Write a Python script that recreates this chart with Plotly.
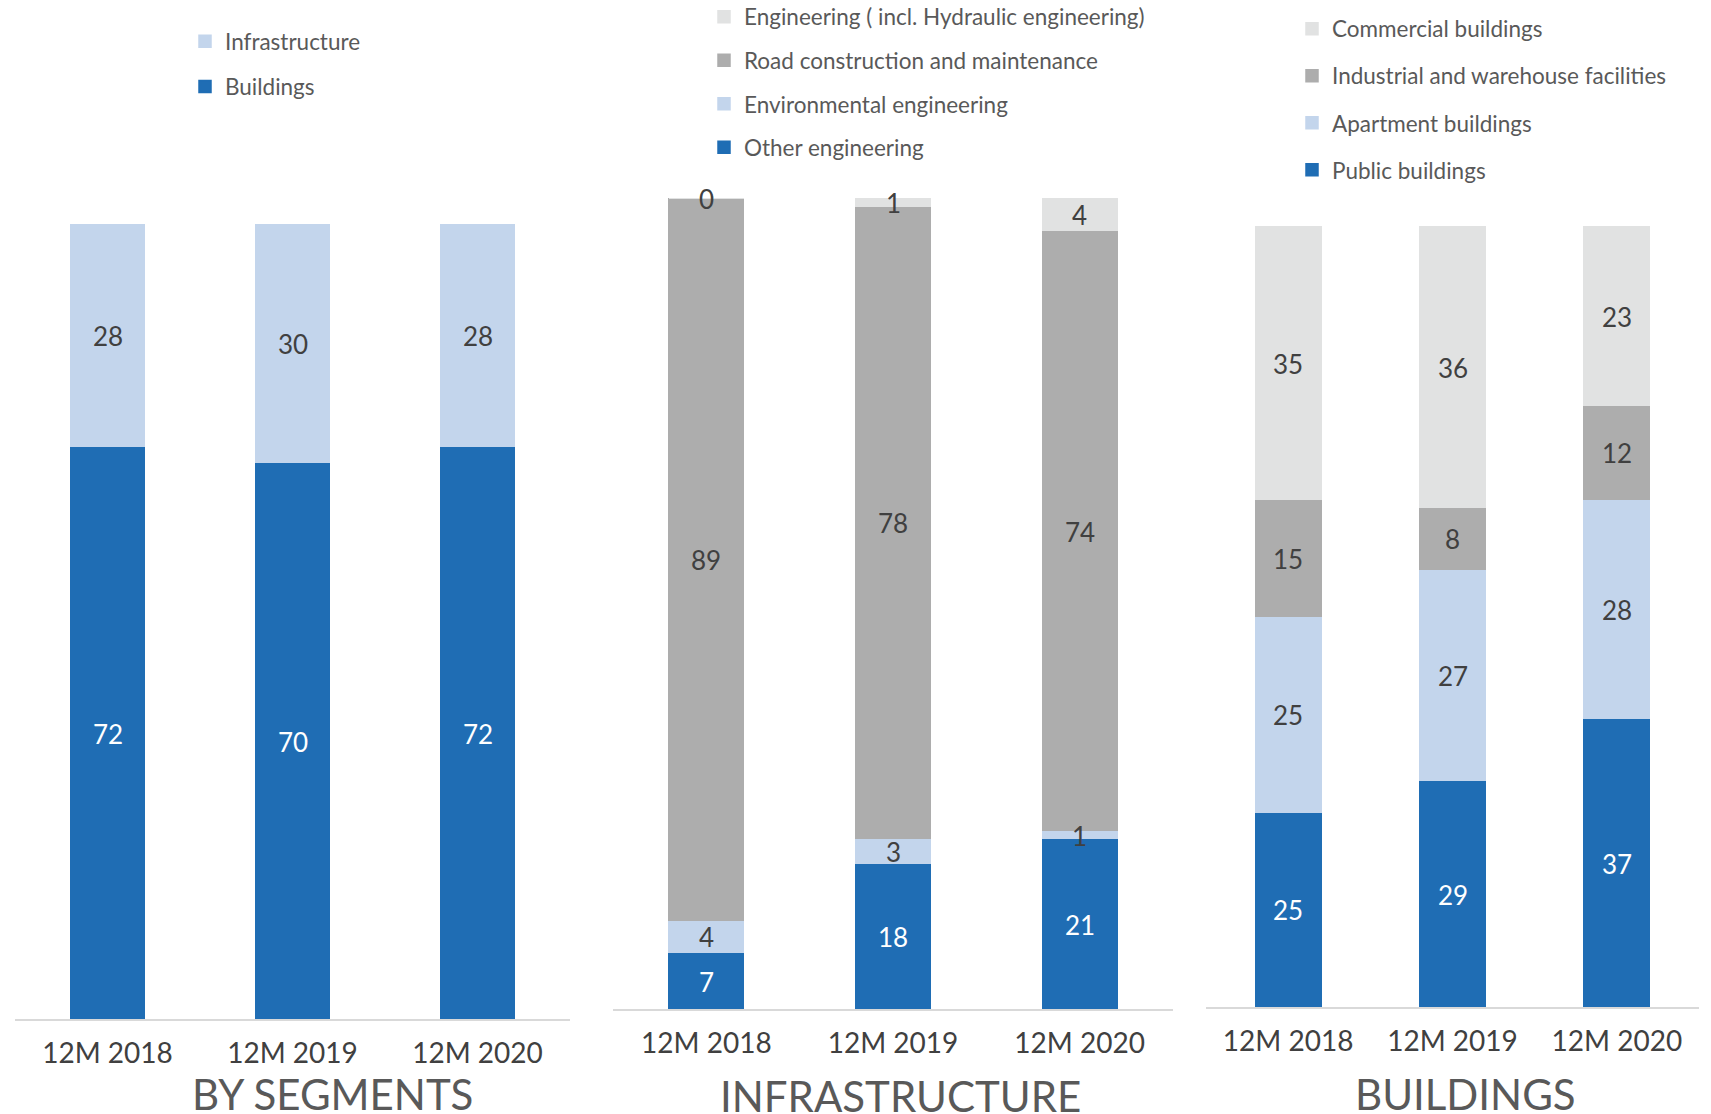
import plotly.graph_objects as go

categories = ["12M 2018", "12M 2019", "12M 2020"]

# Panel 1: by segments
seg_names = ["Buildings", "Infrastructure"]
seg_buildings = [72, 70, 72]
seg_infra = [28, 30, 28]

# Panel 2: infrastructure
inf_names = ["Other engineering", "Environmental engineering",
             "Road construction and maintenance", "Engineering ( incl. Hydraulic engineering)"]
inf_other = [7, 18, 21]
inf_env = [4, 3, 1]
inf_road = [89, 78, 74]
inf_hydro = [0, 1, 4]

# Panel 3: buildings
bld_names = ["Public buildings", "Apartment buildings",
             "Industrial and warehouse facilities", "Commercial buildings"]
bld_public = [25, 29, 37]
bld_apart = [25, 27, 28]
bld_indus = [15, 8, 12]
bld_comm = [35, 36, 23]

panel_titles = ["BY SEGMENTS", "INFRASTRUCTURE", "BUILDINGS"]

DARK_BLUE = "#1f6db4"
LIGHT_BLUE = "#c3d5ec"
DARK_GRAY = "#adadad"
LIGHT_GRAY = "#e1e2e2"

FONT = "Lato"
fig = go.Figure()

panels = [
    ("x", "y", "legend", [seg_buildings, seg_infra], seg_names, [DARK_BLUE, LIGHT_BLUE]),
    ("x2", "y2", "legend2", [inf_other, inf_env, inf_road, inf_hydro], inf_names,
     [DARK_BLUE, LIGHT_BLUE, DARK_GRAY, LIGHT_GRAY]),
    ("x3", "y3", "legend3", [bld_public, bld_apart, bld_indus, bld_comm], bld_names,
     [DARK_BLUE, LIGHT_BLUE, DARK_GRAY, LIGHT_GRAY]),
]

label_annotations = []
for xa, ya, lg, series, names, colors in panels:
    base = [0, 0, 0]
    for k, (vals, name, col) in enumerate(zip(series, names, colors)):
        fig.add_trace(go.Bar(
            x=categories, y=vals, name=name,
            marker=dict(color=col, line=dict(width=1.5, color=col)),
            xaxis=xa, yaxis=ya, legend=lg, legendgroup=lg + name,
            legendrank=100 - k, hoverinfo="x+y+name",
        ))
        tcol = "#ffffff" if col == DARK_BLUE else "#404040"
        for c, b, v in zip(categories, base, vals):
            label_annotations.append(dict(
                x=c, y=b + v / 2, xref=xa, yref=ya, text=str(v), showarrow=False,
                xanchor="center", yanchor="middle", yshift=-1,
                font=dict(family=FONT, size=26, color=tcol),
            ))
        base = [b + v for b, v in zip(base, vals)]

xdoms = [[15 / 1711, 570 / 1711], [613 / 1711, 1173 / 1711], [1206 / 1711, 1699 / 1711]]
ydoms = [[1 - 1019 / 1114, 1 - 224 / 1114], [1 - 1009 / 1114, 1 - 198 / 1114],
         [1 - 1007 / 1114, 1 - 226 / 1114]]

layout = dict(
    width=1711, height=1114, barmode="stack", bargap=0.6,
    margin=dict(l=0, r=0, t=0, b=0, autoexpand=False),
    paper_bgcolor="white", plot_bgcolor="white",
    showlegend=True,
)
for i in range(3):
    sx = "" if i == 0 else str(i + 1)
    layout["xaxis" + sx] = dict(
        domain=xdoms[i], anchor="y" + sx, showline=True, linecolor="#d9d9d9", linewidth=2,
        showgrid=False, zeroline=False, ticks="", ticklabelstandoff=8,
        tickfont=dict(family=FONT, size=28, color="#404040"),
        range=[-0.5, 2.5], fixedrange=True,
    )
    layout["yaxis" + sx] = dict(
        domain=ydoms[i], anchor="x" + sx, range=[0, 100], visible=False, fixedrange=True,
    )

leg_common = dict(
    xanchor="left", yanchor="top", bgcolor="rgba(0,0,0,0)",
    font=dict(family=FONT, size=22.5, color="#595959"),
    traceorder="grouped",
)
layout["legend"] = dict(x=185 / 1711, y=1 - 20 / 1114, tracegroupgap=13, **leg_common)
layout["legend2"] = dict(x=704 / 1711, y=1 - (-4.5) / 1114, tracegroupgap=11.3, **leg_common)
layout["legend3"] = dict(x=1292 / 1711, y=1 - 7.5 / 1114, tracegroupgap=14.8, **leg_common)

fig.update_layout(**layout)

title_pos = [(332, 1094), (900, 1096), (1465, 1094)]
for t, (px, py) in zip(panel_titles, title_pos):
    fig.add_annotation(
        text=t, x=px / 1711, y=1 - py / 1114, xref="paper", yref="paper",
        xanchor="center", yanchor="middle", showarrow=False,
        font=dict(family=FONT, size=42, color="#595959"),
    )
for a in label_annotations:
    fig.add_annotation(**a)

fig.write_html("out.html")
